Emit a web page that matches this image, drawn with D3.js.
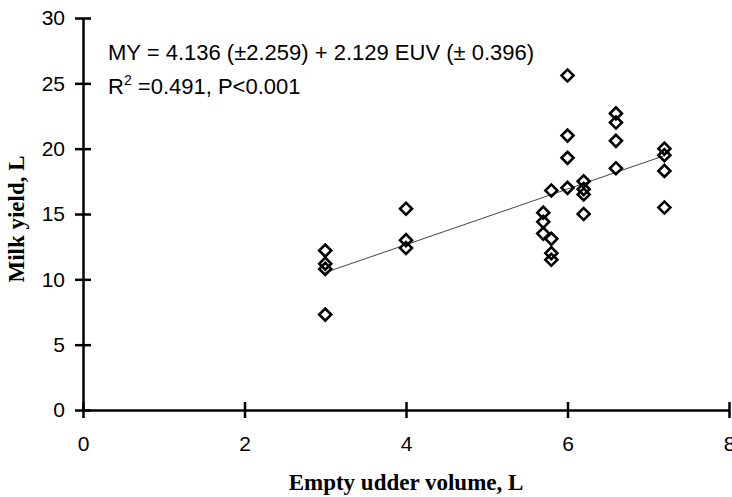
<!DOCTYPE html>
<html>
<head>
<meta charset="utf-8">
<script src="https://cdn.jsdelivr.net/npm/d3@7"></script>
<style>
  body { margin: 0; background: #fff; }
  svg { display: block; }
</style>
</head>
<body>
<svg id="chart" width="732" height="497"></svg>
<script>
// empty udder volume (L) and milk yield (L)
var euv = [3, 3, 3, 3,
           4, 4, 4,
           5.7, 5.7, 5.7,
           5.8, 5.8, 5.8, 5.8,
           6, 6, 6, 6,
           6.2, 6.2, 6.2, 6.2,
           6.6, 6.6, 6.6, 6.6,
           7.2, 7.2, 7.2, 7.2];
var milk = [12.2, 11.2, 10.8, 7.3,
            15.4, 13.0, 12.4,
            15.1, 14.4, 13.5,
            16.8, 13.1, 12.0, 11.5,
            25.6, 21.0, 19.3, 17.0,
            17.5, 16.9, 16.5, 15.0,
            22.7, 22.0, 20.6, 18.5,
            20.0, 19.5, 18.3, 15.5];

var xTicks = [0, 2, 4, 6, 8];
var yTicks = [0, 5, 10, 15, 20, 25, 30];

// regression MY = a + b * EUV
var intercept = 4.136, slope = 2.129;
var fitRange = [3, 7.2];

var svg = d3.select("#chart");

var x = d3.scaleLinear().domain([0, 8]).range([83, 729]);
var y = d3.scaleLinear().domain([0, 30]).range([410, 18]);

// y axis, ticks cross the line
var yAxis = svg.append("g")
    .attr("transform", "translate(" + x(0) + ",0)")
    .call(d3.axisLeft(y).tickValues(yTicks).tickSizeInner(8).tickSizeOuter(0).tickPadding(10));
yAxis.selectAll(".tick line").attr("x1", 8);

var xAxis = svg.append("g")
    .attr("transform", "translate(0," + y(0) + ")")
    .call(d3.axisBottom(x).tickValues(xTicks).tickSizeInner(8).tickSizeOuter(0).tickPadding(18));
xAxis.selectAll(".tick line").attr("y1", -8);

svg.selectAll(".domain, .tick line")
    .attr("stroke", "#000")
    .attr("stroke-width", 2.5);
svg.selectAll(".tick text")
    .attr("fill", "#000")
    .style("font-family", "'Liberation Sans', Arial, sans-serif")
    .style("font-size", "21px");

// fitted line
var line = d3.line()
    .x(function(d){ return x(d); })
    .y(function(d){ return y(intercept + slope * d); });
svg.append("path")
    .datum(fitRange)
    .attr("d", line)
    .attr("fill", "none")
    .attr("stroke", "#444")
    .attr("stroke-width", 1);

// open diamonds
var diamond = d3.symbol().type(d3.symbolSquare).size(72);
svg.append("g").selectAll("path")
    .data(euv)
    .join("path")
    .attr("d", diamond)
    .attr("transform", function(d, i){ return "translate(" + x(d) + "," + y(milk[i]) + ") rotate(45)"; })
    .attr("fill", "none")
    .attr("stroke", "#000")
    .attr("stroke-width", 2.6);

// equation text
var eq = svg.append("g")
    .style("font-family", "'Liberation Sans', Arial, sans-serif")
    .style("font-size", "22px")
    .attr("fill", "#000");
eq.append("text")
    .attr("x", 108).attr("y", 60)
    .text("MY = 4.136 (\u00b12.259) + 2.129 EUV (\u00b1 0.396)");
var r2 = eq.append("text").attr("x", 108).attr("y", 94);
r2.append("tspan").text("R");
r2.append("tspan").attr("dy", -9).style("font-size", "14px").text("2");
r2.append("tspan").attr("dy", 9).text(" =0.491, P<0.001");

// axis titles
svg.append("text")
    .attr("x", (x(0) + x(8)) / 2).attr("y", 490)
    .attr("text-anchor", "middle")
    .style("font-family", "'Liberation Serif', 'Times New Roman', serif")
    .style("font-weight", "bold")
    .style("font-size", "23px")
    .text("Empty udder volume, L");

svg.append("text")
    .attr("transform", "translate(24," + (y(15) + 5) + ") rotate(-90)")
    .attr("text-anchor", "middle")
    .style("font-family", "'Liberation Serif', 'Times New Roman', serif")
    .style("font-weight", "bold")
    .style("font-size", "23px")
    .text("Milk yield, L");
</script>
</body>
</html>
